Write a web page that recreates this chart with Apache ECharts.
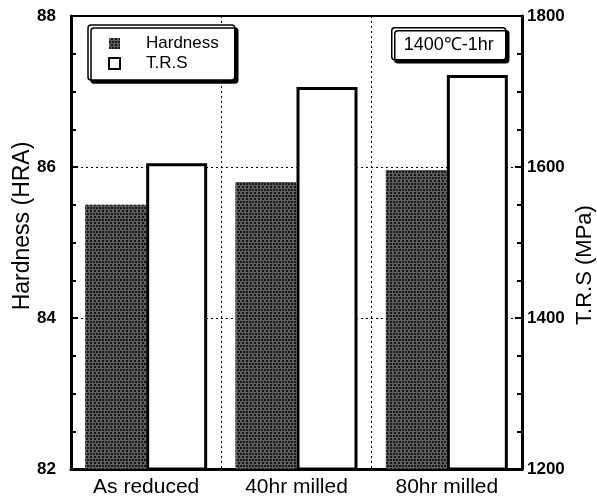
<!DOCTYPE html>
<html>
<head>
  <meta charset="utf-8">
  <title>Hardness and T.R.S</title>
  <script src="https://cdn.jsdelivr.net/npm/echarts@6/dist/echarts.min.js"></script>
</head>
<body style="margin:0;background:#fff;">
<div id="main" style="width:597px;height:500px;"></div>
<script type="text/javascript">
  // values
  var categories = ['As reduced', '40hr milled', '80hr milled'];
  var hardness = [85.5, 85.8, 85.96];   // HRA, left axis
  var trs = [1605, 1706, 1722];        // MPa, right axis

  var FONT = '"Liberation Sans", Arial, sans-serif';

  var chart = echarts.init(document.getElementById('main'));

  var option = {
    backgroundColor: '#fff',
    animation: false,
    grid: {
      left: 71, right: 75, top: 16, bottom: 31,
      show: true, borderColor: '#000', borderWidth: 2
    },
    legend: {
      orient: 'vertical',
      left: 88, top: 25,
      padding: [10, 16, 8, 20],
      itemGap: 3,
      itemWidth: 11, itemHeight: 11,
      icon: 'rect',
      borderColor: '#000', borderWidth: 1.5, borderRadius: 3,
      backgroundColor: '#fff',
      shadowColor: '#000', shadowOffsetX: 3, shadowOffsetY: 3, shadowBlur: 0,
      textStyle: { fontFamily: FONT, fontSize: 17, color: '#000', padding: [0, 0, 0, 21] },
      data: ['Hardness', 'T.R.S']
    },
    graphic: [{
      type: 'group',
      left: 391, top: 27,
      children: [{
        type: 'rect',
        shape: { x: 0, y: 0, width: 114, height: 32, r: 3 },
        style: { fill: '#fff', stroke: '#000', lineWidth: 1.5,
                 shadowColor: '#000', shadowOffsetX: 3, shadowOffsetY: 3, shadowBlur: 0 }
      }, {
        type: 'text',
        style: { text: '1400℃-1hr', x: 57, y: 17, align: 'center', verticalAlign: 'middle',
                 font: '18px ' + FONT, fill: '#000' }
      }]
    }, {
      type: 'text',
      x: 23, y: 226, rotation: Math.PI / 2,
      style: { text: 'Hardness (HRA)', align: 'center', verticalAlign: 'middle',
               font: '23px ' + FONT, fill: '#000' }
    }, {
      type: 'text',
      x: 585, y: 265, rotation: Math.PI / 2,
      style: { text: 'T.R.S (MPa)', align: 'center', verticalAlign: 'middle',
               font: '22px ' + FONT, fill: '#000' }
    }],
    xAxis: {
      type: 'category',
      data: categories,
      axisLine: { lineStyle: { color: '#000', width: 3 } },
      axisTick: { show: false },
      axisLabel: { fontFamily: FONT, fontSize: 21, color: '#000', margin: 8 },
      splitLine: { show: true, lineStyle: { color: '#000', type: [2, 3], width: 1 } }
    },
    yAxis: [{
      type: 'value',
      min: 82, max: 88, interval: 2,
      axisLine: { show: true, lineStyle: { color: '#000', width: 3 } },
      axisTick: { show: true, inside: true, length: 7, lineStyle: { color: '#000', width: 2 } },
      minorTick: { show: true, splitNumber: 4, length: 5, lineStyle: { color: '#000', width: 2 } },
      axisLabel: { fontFamily: FONT, fontSize: 17, fontWeight: 'bold', color: '#000', margin: 15 },
      splitLine: { show: true, lineStyle: { color: '#000', type: [2, 3], width: 1 } }
    }, {
      type: 'value',
      position: 'right',
      min: 1200, max: 1800, interval: 200,
      axisLine: { show: true, lineStyle: { color: '#000', width: 3 } },
      axisTick: { show: true, inside: true, length: 7, lineStyle: { color: '#000', width: 2 } },
      minorTick: { show: true, splitNumber: 4, length: 5, lineStyle: { color: '#000', width: 2 } },
      axisLabel: { fontFamily: FONT, fontSize: 17, fontWeight: 'bold', color: '#000', margin: 5,
                   formatter: function (v) { return String(v); } },
      splitLine: { show: false }
    }],
    series: [{
      name: 'Hardness',
      type: 'bar',
      yAxisIndex: 0,
      data: hardness,
      barWidth: 61,
      barGap: '0%',
      itemStyle: {
        color: '#5e5e5e',
        decal: {
          symbol: 'circle',
          symbolSize: 1,
          color: '#000',
          dashArrayX: [[2, 1], [0, 1.5, 2, 0]],
          dashArrayY: [2, 0.5],
          rotation: 0
        }
      }
    }, {
      name: 'T.R.S',
      type: 'bar',
      yAxisIndex: 1,
      data: trs,
      barWidth: 61,
      barGap: '0%',
      itemStyle: { color: '#fff', borderColor: '#000', borderWidth: 3 }
    }]
  };

  chart.setOption(option);
</script>
</body>
</html>
